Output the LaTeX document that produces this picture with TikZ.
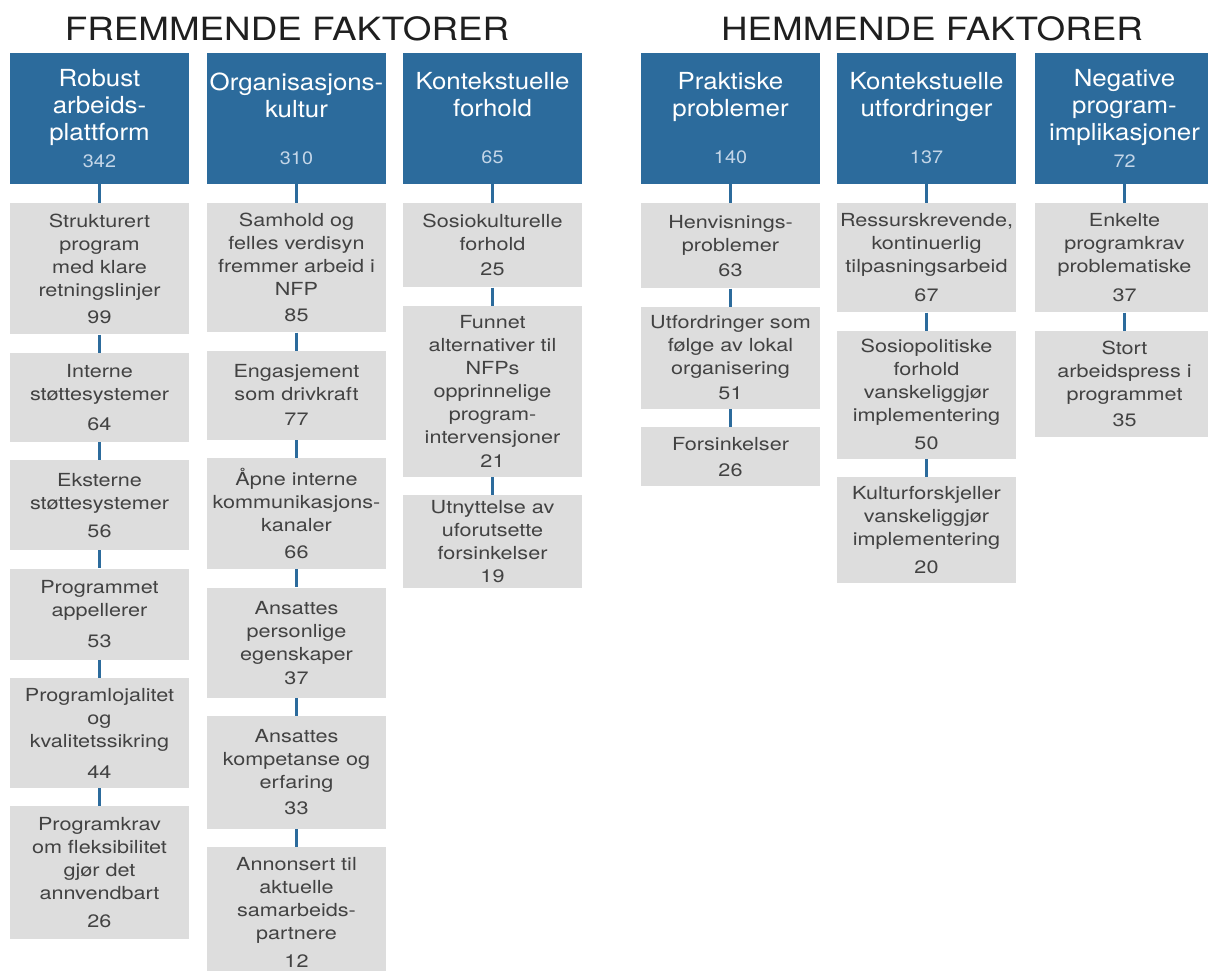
\documentclass[tikz,border=0pt]{standalone}
\usepackage{fontspec}
\setmainfont{TeX Gyre Heros}
\newfontfamily\titlefont[FakeStretch=1.15]{TeX Gyre Heros}
\newfontfamily\headfont[FakeStretch=1.1]{TeX Gyre Heros}
\newfontfamily\itemfont[FakeStretch=1.2]{TeX Gyre Heros}
\usepackage{xcolor}
\usepackage{tikz}
\usetikzlibrary{positioning}

\definecolor{headblue}{RGB}{44,107,156}
\definecolor{numblue}{RGB}{196,214,232}
\definecolor{itemgray}{RGB}{221,221,221}
\definecolor{itemtext}{RGB}{66,66,66}

\begin{document}
\begin{tikzpicture}[
    x=1pt, y=-1pt,
    node distance=18pt,
    title/.style={anchor=base, text=black!88,
                  font=\titlefont\fontsize{32}{36}\selectfont},
    head/.style={rectangle, fill=headblue, text=white, minimum width=179pt,
                 minimum height=131pt, text width=175pt, inner sep=2pt,
                 align=center, font=\headfont\fontsize{23.5}{27}\selectfont},
    item/.style={rectangle, fill=itemgray, text=itemtext, minimum width=179pt,
                 text width=177pt, inner sep=1pt, align=center,
                 font=\itemfont\fontsize{18}{23}\selectfont},
    link/.style={draw=headblue, line width=2.4pt},
]
\useasboundingbox (0,0) rectangle (1208,970);

% Titles
\node[title] (fremmende) at (287,40) {FREMMENDE FAKTORER};
\node[title] (hemmende) at (932,40) {HEMMENDE FAKTORER};

% Main categories
\node[head] (robust) at (99.5,118.5) {Robust\\arbeids-\\plattform\\{\fontsize{18}{20}\selectfont\color{numblue}342}};
\node[head] (orgkultur) at (296.5,118.5) {Organisasjons-\\kultur\\[20pt]{\fontsize{18}{20}\selectfont\color{numblue}310}};
\node[head] (kontforhold) at (492.5,118.5) {Kontekstuelle\\forhold\\[20pt]{\fontsize{18}{20}\selectfont\color{numblue}65}};
\node[head] (praktisk) at (730.5,118.5) {Praktiske\\problemer\\[20pt]{\fontsize{18}{20}\selectfont\color{numblue}140}};
\node[head] (kontutford) at (926.5,118.5) {Kontekstuelle\\utfordringer\\[20pt]{\fontsize{18}{20}\selectfont\color{numblue}137}};
\node[head] (negativ) at (1124.5,118.5) {Negative\\program-\\implikasjoner\\{\fontsize{18}{20}\selectfont\color{numblue}72}};

% Robust arbeidsplattform
\node[item, minimum height=131pt, below=19pt of robust] (strukt) {Strukturert\\program\\med klare\\retningslinjer\\[4pt]99};
\node[item, minimum height=89pt, below=of strukt] (intern) {Interne\\støttesystemer\\[7pt]64};
\node[item, minimum height=90pt, below=of intern] (ekstern) {Eksterne\\støttesystemer\\[5pt]56};
\node[item, minimum height=91pt, below=of ekstern] (appell) {Programmet\\appellerer\\[8pt]53};
\node[item, minimum height=110pt, below=of appell] (lojal) {Programlojalitet\\og\\kvalitetssikring\\[8pt]44};
\node[item, minimum height=133pt, below=of lojal] (fleks) {Programkrav\\om fleksibilitet\\gjør det\\annvendbart\\[5pt]26};

% Organisasjonskultur
\node[item, minimum height=129pt, below=19pt of orgkultur] (samhold) {Samhold og\\felles verdisyn\\fremmer arbeid i\\NFP\\[3pt]85};
\node[item, minimum height=89pt, below=of samhold] (engasj) {Engasjement\\som drivkraft\\[2pt]77};
\node[item, minimum height=111pt, below=of engasj] (kanaler) {Åpne interne\\kommunikasjons-\\kanaler\\[4pt]66};
\node[item, minimum height=110pt, below=of kanaler] (egensk) {Ansattes\\personlige\\egenskaper\\[1pt]37};
\node[item, minimum height=113pt, below=of egensk] (kompet) {Ansattes\\kompetanse og\\erfaring\\[3pt]33};
\node[item, minimum height=130pt, below=of kompet] (annons) {Annonsert til\\aktuelle\\samarbeids-\\partnere\\[5pt]12};

% Kontekstuelle forhold
\node[item, minimum height=84pt, below=19pt of kontforhold] (sosiokult) {Sosiokulturelle\\forhold\\[2pt]25};
\node[item, minimum height=171pt, below=of sosiokult] (alternativ) {Funnet\\alternativer til\\NFPs\\opprinnelige\\program-\\intervensjoner\\[1pt]21};
\node[item, minimum height=93pt, below=of alternativ] (uforutsett) {Utnyttelse av\\uforutsette\\forsinkelser\\[0pt]19};

% Praktiske problemer
\node[item, minimum height=85pt, below=19pt of praktisk] (henvis) {Henvisnings-\\problemer\\[2pt]63};
\node[item, minimum height=102pt, below=of henvis] (lokal) {Utfordringer som\\følge av lokal\\organisering\\[2pt]51};
\node[item, minimum height=59pt, below=of lokal] (forsink) {Forsinkelser\\[3pt]26};

% Kontekstuelle utfordringer
\node[item, minimum height=109pt, below=19pt of kontutford] (ressurs) {Ressurskrevende,\\kontinuerlig\\tilpasningsarbeid\\[6pt]67};
\node[item, minimum height=128pt, below=of ressurs] (sosiopol) {Sosiopolitiske\\forhold\\vanskeliggjør\\implementering\\[5pt]50};
\node[item, minimum height=106pt, below=of sosiopol] (kulturforsk) {Kulturforskjeller\\vanskeliggjør\\implementering\\[5pt]20};

% Negative programimplikasjoner
\node[item, minimum height=109pt, below=19pt of negativ] (enkelte) {Enkelte\\programkrav\\problematiske\\[6pt]37};
\node[item, minimum height=106pt, below=of enkelte] (arbpress) {Stort\\arbeidspress i\\programmet\\[3pt]35};

% Links
\draw[link] (robust) -- (strukt);
\draw[link] (strukt) -- (intern);
\draw[link] (intern) -- (ekstern);
\draw[link] (ekstern) -- (appell);
\draw[link] (appell) -- (lojal);
\draw[link] (lojal) -- (fleks);
\draw[link] (orgkultur) -- (samhold);
\draw[link] (samhold) -- (engasj);
\draw[link] (engasj) -- (kanaler);
\draw[link] (kanaler) -- (egensk);
\draw[link] (egensk) -- (kompet);
\draw[link] (kompet) -- (annons);
\draw[link] (kontforhold) -- (sosiokult);
\draw[link] (sosiokult) -- (alternativ);
\draw[link] (alternativ) -- (uforutsett);
\draw[link] (praktisk) -- (henvis);
\draw[link] (henvis) -- (lokal);
\draw[link] (lokal) -- (forsink);
\draw[link] (kontutford) -- (ressurs);
\draw[link] (ressurs) -- (sosiopol);
\draw[link] (sosiopol) -- (kulturforsk);
\draw[link] (negativ) -- (enkelte);
\draw[link] (enkelte) -- (arbpress);

\end{tikzpicture}
\end{document}
